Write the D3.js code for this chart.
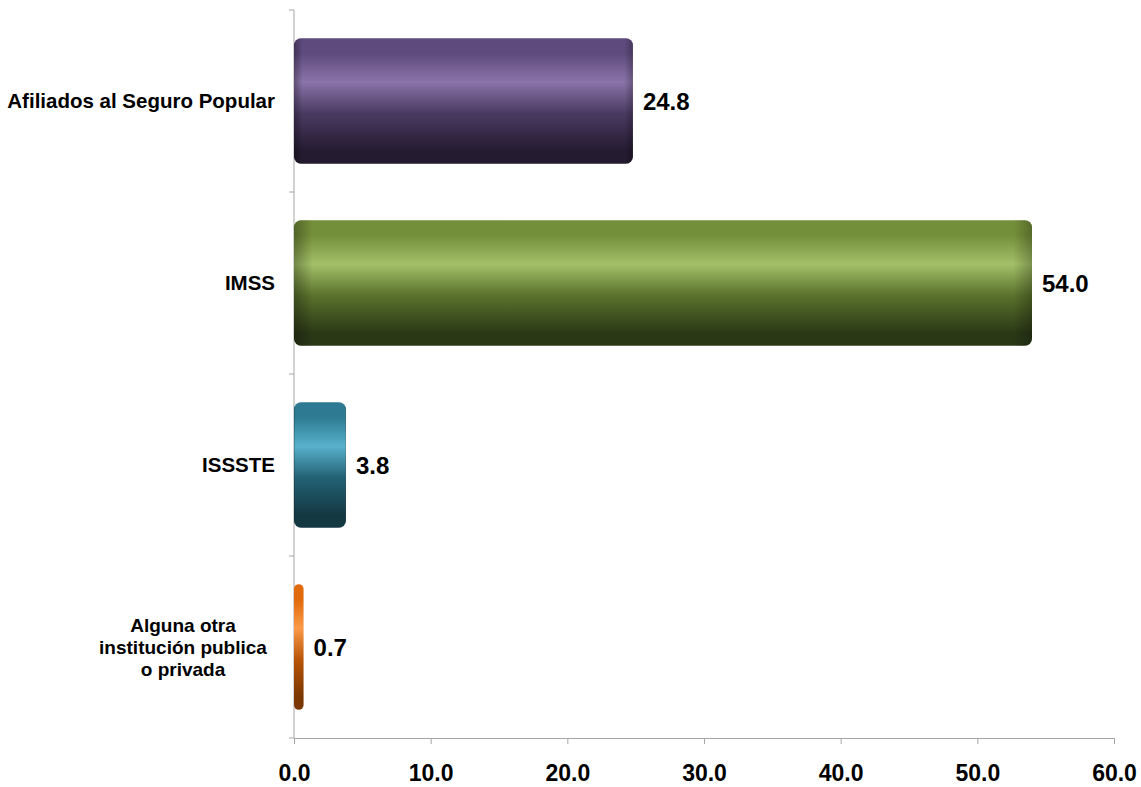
<!DOCTYPE html>
<html><head><meta charset="utf-8">
<script src="https://cdn.jsdelivr.net/npm/d3@7"></script>
<style>body{margin:0;background:#fff}svg{display:block}text{font-family:"Liberation Sans",Arial,sans-serif;font-weight:bold;fill:#000}</style>
</head><body><svg id="c" width="1141" height="787"></svg>
<script>
const categories = ["Afiliados al Seguro Popular","IMSS","ISSSTE","Alguna otra institución publica o privada"];
const labelLines = [["Afiliados al Seguro Popular"],["IMSS"],["ISSSTE"],["Alguna otra","institución publica","o privada"]];
const values = [24.8,54.0,3.8,0.7];
const ticks = [0,10,20,30,40,50,60];
const palettes = [
  {top:"#5e4a7c",mid:"#8a73a8",low:"#4a3a62",bot:"#241b30"},
  {top:"#748f3a",mid:"#a3c068",low:"#5a722c",bot:"#2a3816"},
  {top:"#2d7a92",mid:"#58b1cc",low:"#236275",bot:"#143842"},
  {top:"#e06a0c",mid:"#fb9a48",low:"#b85508",bot:"#7a3700"}
];
const svg = d3.select("#c");
const x = d3.scaleLinear().domain([0,60]).range([294,1114]);
const y = d3.scaleBand().domain(categories).range([10,738]).paddingInner(0.31).paddingOuter(0.155);
const defs = svg.append("defs");
palettes.forEach((p,i)=>{
  const g = defs.append("linearGradient").attr("id","g"+i).attr("x1",0).attr("y1",0).attr("x2",0).attr("y2",1);
  [[0,p.top],[0.12,p.top],[0.35,p.mid],[0.6,p.low],[0.9,p.bot],[1,p.bot]].forEach(s=>g.append("stop").attr("offset",s[0]).attr("stop-color",s[1]));
});
const h = defs.append("linearGradient").attr("id","hx").attr("x1",0).attr("y1",0).attr("x2",1).attr("y2",0);
[[0,0.3],[0.025,0],[0.975,0],[1,0.25]].forEach(s=>h.append("stop").attr("offset",s[0]).attr("stop-color","#000").attr("stop-opacity",s[1]));

// axes
svg.append("g").attr("transform","translate(0,738)")
  .call(d3.axisBottom(x).tickValues(ticks).tickFormat(d3.format(".1f")).tickSize(6).tickSizeOuter(0))
  .call(g=>{g.select(".domain").attr("stroke","#a6a6a6");g.selectAll(".tick line").attr("stroke","#a6a6a6");
    g.selectAll(".tick text").attr("dy",null).attr("y",43).style("font-size","23px").style("font-family","Liberation Sans, Arial, sans-serif").style("font-weight","bold");});
const ya = svg.append("g").attr("transform","translate(294,0)");
ya.append("line").attr("x1",0).attr("x2",0).attr("y1",10).attr("y2",738).attr("stroke","#a6a6a6");
const bounds = categories.map((c,i)=>y(c)-y.step()*y.paddingInner()/2).concat([738]);
ya.selectAll(".yt").data(bounds).join("line").attr("x1",-5).attr("x2",0).attr("y1",d=>d).attr("y2",d=>d).attr("stroke","#a6a6a6");

// bars
const bars = svg.append("g");
categories.forEach((c,i)=>{
  const w = x(values[i])-x(0);
  const r = Math.min(7,w/2);
  bars.append("rect").attr("x",x(0)).attr("y",y(c)).attr("width",w).attr("height",y.bandwidth()).attr("rx",r).attr("fill","url(#g"+i+")");
  if(w>12) bars.append("rect").attr("x",x(0)).attr("y",y(c)).attr("width",w).attr("height",y.bandwidth()).attr("rx",r).attr("fill","url(#hx)");
  svg.append("text").attr("x",x(values[i])+10).attr("y",y(c)+y.bandwidth()/2).attr("dy","0.36em").style("font-size","24px").text(d3.format(".1f")(values[i]));
  const lines = labelLines[i];
  const cy = y(c)+y.bandwidth()/2;
  const t = svg.append("text").style("font-size",lines.length>1?"19px":"20.5px").attr("text-anchor",lines.length>1?"middle":"end");
  lines.forEach((l,k)=>t.append("tspan").attr("x",lines.length>1?183:275).attr("y",cy+(k-(lines.length-1)/2)*22).attr("dy","0.36em").text(l));
});
</script></body></html>
